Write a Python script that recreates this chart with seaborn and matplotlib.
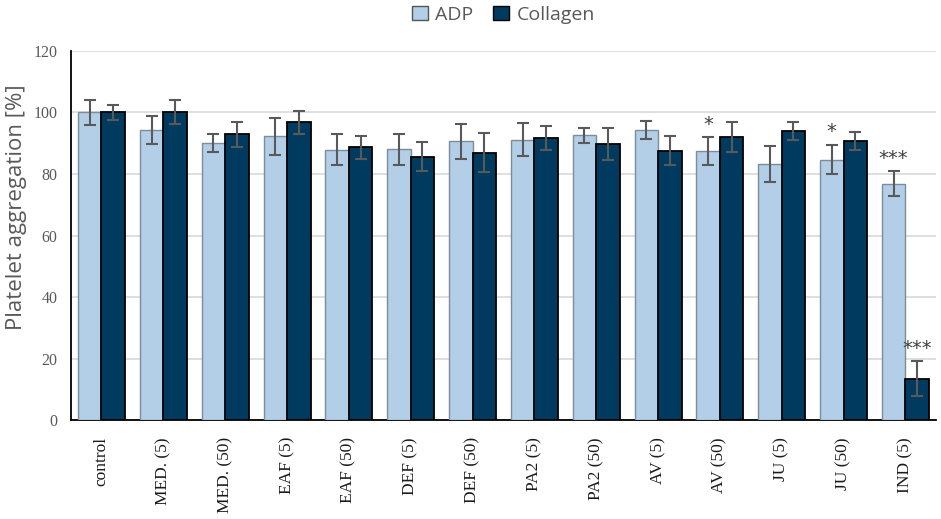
import numpy as np
import pandas as pd
import matplotlib
matplotlib.use("Agg")
import matplotlib.pyplot as plt
import seaborn as sns

# values
groups = ["control", "MED. (5)", "MED. (50)", "EAF (5)", "EAF (50)", "DEF (5)",
          "DEF (50)", "PA2 (5)", "PA2 (50)", "AV (5)", "AV (50)", "JU (5)",
          "JU (50)", "IND (5)"]
adp = [100.0, 94.4, 90.0, 92.3, 87.9, 88.0, 90.7, 91.2, 92.6, 94.4, 87.4, 83.2, 84.7, 76.9]
adp_err = [4.0, 4.5, 3.0, 6.0, 5.0, 5.0, 5.7, 5.3, 2.4, 2.9, 4.5, 5.9, 4.8, 4.0]
collagen = [100.0, 100.1, 92.9, 96.8, 88.7, 85.6, 86.9, 91.6, 89.8, 87.6, 91.9, 94.0, 90.7, 13.5]
collagen_err = [2.5, 4.0, 4.0, 3.8, 3.7, 4.7, 6.3, 3.9, 5.2, 4.7, 4.9, 3.0, 3.0, 5.7]
adp_stars = ["", "", "", "", "", "", "", "", "", "", "*", "", "*", "***"]
collagen_stars = ["", "", "", "", "", "", "", "", "", "", "", "", "", "***"]

df = pd.DataFrame({
    "group": groups * 2,
    "agonist": ["ADP"] * len(groups) + ["Collagen"] * len(groups),
    "value": adp + collagen,
})

sns.set_style("white")
fig, ax = plt.subplots(figsize=(9.41, 5.19), dpi=100)
fig.subplots_adjust(left=0.075, right=0.995, top=0.902, bottom=0.19)

pal = {"ADP": "#B2CFE7", "Collagen": "#003B5F"}
sns.barplot(data=df, x="group", y="value", hue="agonist", palette=pal,
            width=0.76, saturation=1, errorbar=None, ax=ax, zorder=3)

edges = {"ADP": "#7D8C9B", "Collagen": "#000000"}
errs = [adp_err, collagen_err]
vals = [adp, collagen]
stars = [adp_stars, collagen_stars]
for k, (cont, name) in enumerate(zip(ax.containers, ["ADP", "Collagen"])):
    for i, bar in enumerate(cont.patches):
        bar.set_edgecolor(edges[name])
        bar.set_linewidth(1.0 if name == "ADP" else 1.3)
        xc = bar.get_x() + bar.get_width() / 2
        ax.errorbar(xc, vals[k][i], yerr=errs[k][i], color="#595959",
                    elinewidth=1.5, capsize=4, capthick=1.5, zorder=4)
        if stars[k][i]:
            ax.text(xc, vals[k][i] + errs[k][i] + 1.2, stars[k][i],
                    ha="center", va="bottom", fontsize=14, color="#404040",
                    family="DejaVu Sans")

ax.set_ylim(0, 120)
ax.set_xlim(-0.5, len(groups) - 0.5)
ax.yaxis.grid(True, color="#D9D9D9", linewidth=1.2, zorder=0)
ax.set_axisbelow(True)
for s in ["top", "right"]:
    ax.spines[s].set_visible(False)
ax.spines["left"].set_color("black")
ax.spines["bottom"].set_color("black")
ax.spines["left"].set_linewidth(1.3)
ax.spines["bottom"].set_linewidth(1.3)

ax.set_xlabel("")
ax.set_ylabel("Platelet aggregation [%]", fontsize=16, color="#595959",
              family="Open Sans")
ax.yaxis.set_label_coords(-0.05, 0.576)
ax.tick_params(axis="y", length=0, pad=9.5)
ax.tick_params(axis="x", length=0, pad=12)
ax.set_yticks(range(0, 121, 20))
ax.set_yticklabels([str(v) for v in range(0, 121, 20)], family="Liberation Serif",
                   fontsize=11.5, color="#595959")
ax.set_xticks(range(len(groups)))
ax.set_xticklabels(groups, rotation=90, family="Liberation Serif", fontsize=12.5,
                   color="#1a1a1a")

leg = ax.legend(loc="lower center", bbox_to_anchor=(0.5, 1.026), ncol=2,
                frameon=False, handlelength=0.8, handleheight=0.8,
                handletextpad=0.4, columnspacing=1.0,
                prop={"family": "Open Sans", "size": 14})
for t in leg.get_texts():
    t.set_color("#595959")
for h, name in zip(leg.legend_handles, ["ADP", "Collagen"]):
    h.set_edgecolor("#555555" if name == "ADP" else "black")
    h.set_linewidth(1)

fig.savefig("out.png", dpi=100)
